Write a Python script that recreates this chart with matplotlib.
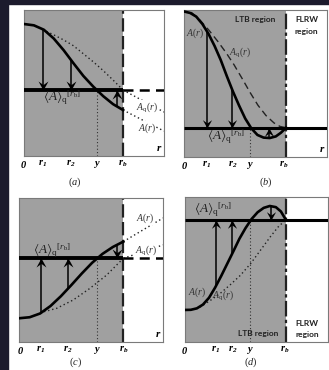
import numpy as np
import matplotlib.pyplot as plt
from matplotlib.path import Path
from matplotlib.patches import Rectangle

plt.rcParams['mathtext.fontset'] = 'custom'
plt.rcParams['mathtext.rm'] = 'Liberation Serif'
plt.rcParams['mathtext.it'] = 'Liberation Serif:italic'
plt.rcParams['mathtext.bf'] = 'Liberation Serif:bold:italic'
plt.rcParams['mathtext.fallback'] = 'stix'

# ---- data (r in units of r_b, A as fraction of panel height) ----
# panel (a)
a_r = [0, 0.1, 0.2, 0.3, 0.4, 0.5, 0.6, 0.7, 0.8, 0.9, 1.0]
a_A = [0.904, 0.895, 0.865, 0.805, 0.725, 0.635, 0.548, 0.475, 0.41, 0.355, 0.315]
a_rq = [0.189, 0.3, 0.4, 0.5, 0.6, 0.7, 0.8, 0.9, 1.0]
a_Aq = [0.866, 0.83, 0.795, 0.755, 0.70, 0.645, 0.585, 0.52, 0.452]
a_out_r = [1.0, 1.414]
a_out_A = [0.315, 0.171]
a_out_Aq = [0.452, 0.301]
a_avg = 0.452
a_ticks = [0, 0.189, 0.472, 0.74, 1.0]
a_arrows = [0.189, 0.472, 0.939]

# panel (b)
b_r = [0, 0.06, 0.12, 0.18, 0.24, 0.30, 0.36, 0.42, 0.48, 0.54, 0.60, 0.66, 0.72, 0.78, 0.84, 0.90, 0.95, 1.0]
b_A = [0.990, 0.980, 0.955, 0.905, 0.838, 0.755, 0.66, 0.55, 0.445, 0.35, 0.262, 0.195, 0.15, 0.132, 0.129, 0.14, 0.165, 0.199]
b_rq = [0.07, 0.157, 0.245, 0.333, 0.412, 0.49, 0.569, 0.647, 0.725, 0.804, 0.882, 0.941, 1.0]
b_Aq = [0.985, 0.93, 0.862, 0.785, 0.71, 0.628, 0.535, 0.44, 0.352, 0.282, 0.232, 0.208, 0.199]
b_avg = 0.199
b_ticks = [0.007, 0.223, 0.474, 0.647, 0.98]
b_arrows = [0.223, 0.474, 0.833]

# panel (c)
c_r = [0, 0.1, 0.2, 0.3, 0.4, 0.5, 0.6, 0.7, 0.8, 0.9, 1.0]
c_A = [0.165, 0.172, 0.198, 0.25, 0.318, 0.395, 0.475, 0.55, 0.612, 0.66, 0.697]
c_rq = [0.199, 0.36, 0.519, 0.68, 0.84, 1.0]
c_Aq = [0.203, 0.234, 0.292, 0.373, 0.465, 0.581]
c_out_r = [1.0, 1.382]
c_out_A = [0.697, 0.861]
c_out_Aq = [0.581, 0.674]
c_avg = 0.581
c_ticks = [0.007, 0.206, 0.471, 0.744, 1.0]
c_arrows = [0.206, 0.471, 0.937]

# panel (d)
d_r = [0, 0.06, 0.12, 0.18, 0.24, 0.30, 0.36, 0.42, 0.48, 0.54, 0.60, 0.66, 0.72, 0.78, 0.84, 0.90, 0.95, 1.0]
d_A = [0.221, 0.222, 0.232, 0.258, 0.305, 0.375, 0.455, 0.54, 0.625, 0.712, 0.785, 0.848, 0.895, 0.925, 0.938, 0.93, 0.9, 0.841]
d_rq = [0.15, 0.25, 0.35, 0.45, 0.55, 0.65, 0.75, 0.85, 0.93, 1.0]
d_Aq = [0.24, 0.285, 0.335, 0.395, 0.46, 0.54, 0.635, 0.73, 0.80, 0.841]
d_avg = 0.841
d_ticks = [0, 0.306, 0.47, 0.645, 0.99]
d_arrows = [0.306, 0.47, 0.849]

tick_labels = [r'$\mathbf{0}$', r'$\mathbf{r_1}$', r'$\mathbf{r_2}$', r'$\mathbf{y}$', r'$\mathbf{r_b}$']
avg_label = r'$\langle A\rangle_{\rm q}{}^{[r_{\rm b}]}$'

GRAY = '#a0a0a0'
NAVY = '#1c1b2d'
W, H = 329, 370

# arrow heads (tip at origin)
head_down = Path([(0, 0), (0.55, 1.0), (0, 0.6), (-0.55, 1.0), (0, 0)],
                 [Path.MOVETO, Path.LINETO, Path.LINETO, Path.LINETO, Path.CLOSEPOLY])
head_up = Path([(0, 0), (0.55, -1.0), (0, -0.6), (-0.55, -1.0), (0, 0)],
               [Path.MOVETO, Path.LINETO, Path.LINETO, Path.LINETO, Path.CLOSEPOLY])

fig = plt.figure(figsize=(W / 100, H / 100), dpi=100)
fig.add_artist(Rectangle((0, 0), 8 / W, 1, transform=fig.transFigure, color=NAVY, zorder=0))
fig.add_artist(Rectangle((0, 1 - 4 / H), 1, 4 / H, transform=fig.transFigure, color=NAVY, zorder=0))


def make_ax(left, right, top, bottom, rb, rlabel=True):
    ax = fig.add_axes([left / W, 1 - bottom / H, (right - left) / W, (bottom - top) / H])
    xmax = (right - left) / (rb - left)
    ax.set_xlim(0, xmax)
    ax.set_ylim(0, 1)
    ax.set_yticks([])
    ax.axvspan(0, 1, color=GRAY, lw=0, zorder=0)
    for s in ax.spines.values():
        s.set_color('#7a7a7a')
        s.set_linewidth(0.8)
    if rlabel:
        ax.text(xmax - 0.02, 0.02, r'$\mathbf{r}$', fontsize=8, ha='right', va='bottom')
    return ax, xmax


def arrow(ax, x, r, A, avg, ms=13):
    y0 = np.interp(x, r, A)
    ax.plot([x, x], [y0, avg], color='k', lw=1.1, zorder=4, solid_capstyle='butt')
    ax.plot(x, avg, marker=head_down if y0 > avg else head_up, ms=ms, color='k', mew=0, zorder=5)


def ticks(ax, vals, cap, cap_x, cap_y):
    ax.set_xticks(vals, tick_labels)
    ax.tick_params(axis='x', length=0, pad=2, labelsize=7.5)
    ax.text(cap_x, cap_y, cap, transform=ax.get_xaxis_transform(), fontsize=7.5,
            ha='center', va='center', color='#222222')


txt = dict(fontsize=7, color='#333333', ha='center', va='center')
sans = dict(fontsize=6, family='Lato', weight='bold', color='#222222', ha='center', va='center')

# ---------------- (a) ----------------
ax, xm = make_ax(24, 164, 10, 156, 123)
ax.plot([0, 1], [a_avg, a_avg], color='k', lw=2.8, solid_capstyle='butt', zorder=3)
ax.plot([1, xm], [a_avg, a_avg], color='k', lw=1.8, ls=(0, (4, 2.5)), zorder=3)
ax.axvline(1, color='#222222', lw=1.6, ls=(0, (6, 2)), zorder=2)
ax.plot([a_ticks[3]] * 2, [0, a_avg], color='#333333', lw=0.8, ls=(0, (1, 2)))
ax.plot(a_rq, a_Aq, color='#222222', lw=1.0, ls=(0, (1, 2)))
ax.plot(a_out_r, a_out_Aq, color='#222222', lw=1.0, ls=(0, (1, 2)))
ax.plot(a_out_r, a_out_A, color='#222222', lw=1.0, ls=(0, (1, 2)))
ax.plot(a_r, a_A, color='k', lw=1.9, zorder=4)
for x in a_arrows:
    arrow(ax, x, a_r, a_A, a_avg)
ax.text(0.19, 0.397, avg_label, fontsize=9.5, ha='left', va='center', color='#222222')
ax.text(1.24, 0.336, r'$A_{\rm q}(r)$', bbox=dict(fc='white', ec='none', pad=0.3), **txt)
ax.text(1.24, 0.19, r'$A(r)$', bbox=dict(fc='white', ec='none', pad=0.3), **txt)
ticks(ax, a_ticks, r'$(a)$', 0.515, -0.178)

# ---------------- (b) ----------------
ax, xm = make_ax(184, 327, 10, 157, 286)
ax.plot([0, xm], [b_avg, b_avg], color='k', lw=2.2, solid_capstyle='butt', zorder=3)
ax.axvline(1, color='#222222', lw=1.6, ls=(0, (7, 1.5, 1.5, 1.5)), zorder=2)
ax.plot([b_ticks[3]] * 2, [0, b_avg], color='#333333', lw=0.8, ls=(0, (1, 2)))
ax.plot(b_rq, b_Aq, color='#222222', lw=1.0, ls=(0, (5, 3)))
ax.plot(b_r, b_A, color='k', lw=1.9, zorder=4)
for x in b_arrows:
    arrow(ax, x, b_r, b_A, b_avg, ms=12)
ax.text(0.225, 0.136, avg_label, fontsize=9.5, ha='left', va='center', color='#222222')
ax.text(0.108, 0.844, r'$A(r)$', **txt)
ax.text(0.55, 0.714, r'$A_{\rm q}(r)$', **txt)
ax.text(0.696, 0.932, 'LTB region', **sans)
ax.text(1.2, 0.932, 'FLRW', **sans)
ax.text(1.2, 0.857, 'region', **sans)
ticks(ax, b_ticks, r'$(b)$', 0.80, -0.17)

# ---------------- (c) ----------------
ax, xm = make_ax(19.3, 163, 198, 342, 123.3)
ax.plot([0, 1], [c_avg, c_avg], color='k', lw=2.8, solid_capstyle='butt', zorder=3)
ax.plot([1, xm], [c_avg, c_avg], color='k', lw=1.8, ls=(0, (4, 2.5)), zorder=3)
ax.axvline(1, color='#222222', lw=1.6, ls=(0, (6, 2)), zorder=2)
ax.plot([c_ticks[3]] * 2, [0, c_avg], color='#333333', lw=0.8, ls=(0, (1, 2)))
ax.plot(c_rq, c_Aq, color='#222222', lw=1.0, ls=(0, (1, 2)))
ax.plot(c_out_r, c_out_Aq, color='#222222', lw=1.0, ls=(0, (1, 2)))
ax.plot(c_out_r, c_out_A, color='#222222', lw=1.0, ls=(0, (1, 2)))
ax.plot(c_r, c_A, color='k', lw=1.9, zorder=4)
for x in c_arrows:
    arrow(ax, x, c_r, c_A, c_avg)
ax.text(0.13, 0.632, avg_label, fontsize=9.5, ha='left', va='center', color='#222222')
ax.text(1.208, 0.861, r'$A(r)$', bbox=dict(fc='white', ec='none', pad=0.3), **txt)
ax.text(1.218, 0.639, r'$A_{\rm q}(r)$', bbox=dict(fc='white', ec='none', pad=0.3), **txt)
ticks(ax, c_ticks, r'$(c)$', 0.545, -0.14)

# ---------------- (d) ----------------
ax, xm = make_ax(184.7, 328, 197, 342, 286, rlabel=False)
ax.plot([0, xm], [d_avg, d_avg], color='k', lw=2.2, solid_capstyle='butt', zorder=3)
ax.axvline(1, color='#222222', lw=1.6, ls=(0, (7, 1.5, 1.5, 1.5)), zorder=2)
ax.plot([d_ticks[3]] * 2, [0, d_avg], color='#333333', lw=0.8, ls=(0, (1, 2)))
ax.plot(d_rq, d_Aq, color='#222222', lw=1.0, ls=(0, (1, 2)))
ax.plot(d_r, d_A, color='k', lw=1.9, zorder=4)
for x in d_arrows:
    arrow(ax, x, d_r, d_A, d_avg, ms=12)
ax.text(0.092, 0.91, avg_label, fontsize=9.5, ha='left', va='center', color='#222222')
ax.text(0.121, 0.345, r'$A(r)$', **txt)
ax.text(0.38, 0.324, r'$A_{\rm q}(r)$', **txt)
ax.text(0.723, 0.062, 'LTB region', **sans)
ax.text(1.207, 0.131, 'FLRW', **sans)
ax.text(1.207, 0.055, 'region', **sans)
ticks(ax, d_ticks, r'$(d)$', 0.65, -0.14)

fig.savefig('out.png', dpi=100)
